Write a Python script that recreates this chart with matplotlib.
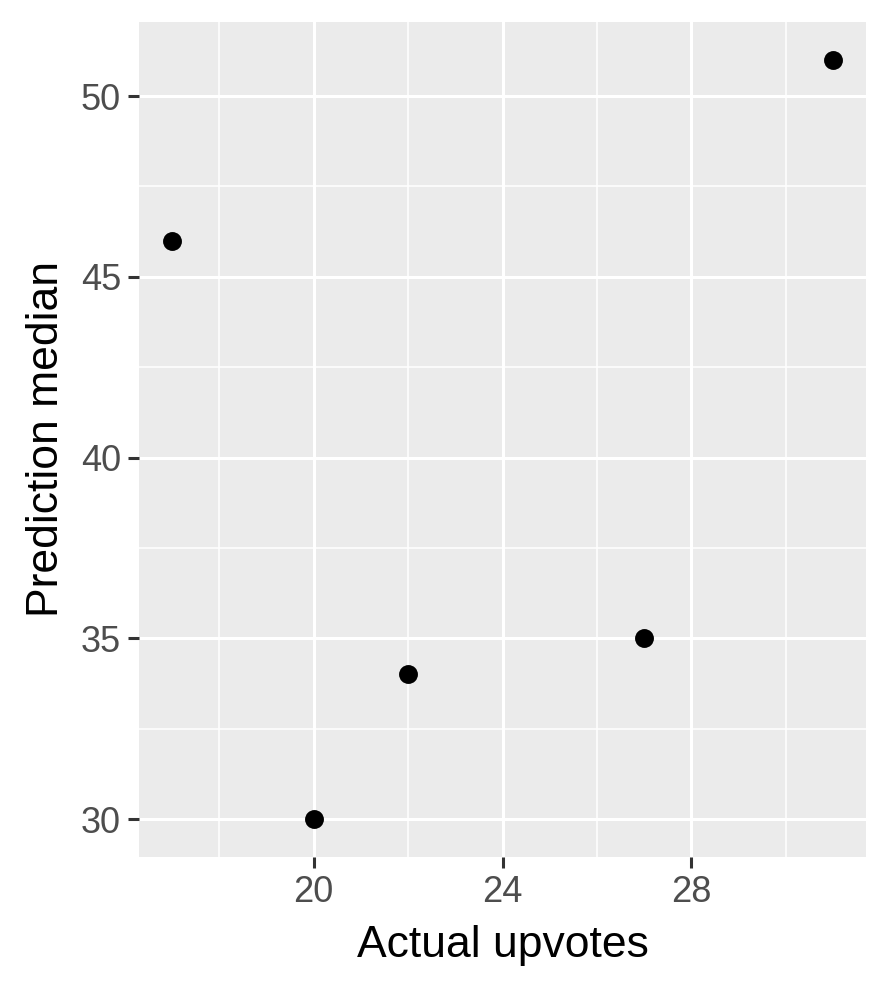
import matplotlib
matplotlib.use("Agg")
import matplotlib.pyplot as plt
from matplotlib.ticker import FixedLocator

plt.rcParams['font.family'] = ['Liberation Sans', 'DejaVu Sans']

# data
actual_upvotes = [17, 20, 22, 27, 31]
prediction_median = [46, 30, 34, 35, 51]

x_major = [20, 24, 28]
x_minor = [18, 22, 26, 30]
y_major = [30, 35, 40, 45, 50]
y_minor = [32.5, 37.5, 42.5, 47.5]

fig = plt.figure(figsize=(8.9, 9.93), dpi=100)
ax = fig.add_axes([0.1562, 0.1370, 0.8169, 0.8409])
ax.set_facecolor('#EBEBEB')
for s in ax.spines.values():
    s.set_visible(False)

ax.set_xlim(16.3, 31.7)
ax.set_ylim(28.95, 52.05)
ax.xaxis.set_major_locator(FixedLocator(x_major))
ax.xaxis.set_minor_locator(FixedLocator(x_minor))
ax.yaxis.set_major_locator(FixedLocator(y_major))
ax.yaxis.set_minor_locator(FixedLocator(y_minor))

ax.grid(which='major', color='white', linewidth=2.2)
ax.grid(which='minor', color='white', linewidth=1.1)
ax.set_axisbelow(True)

ax.tick_params(which='major', length=8, width=2.2, color='#333333',
               labelcolor='#4D4D4D', labelsize=26, pad=5)
ax.tick_params(which='minor', length=0)

ax.scatter(actual_upvotes, prediction_median, s=185, color='black',
           linewidths=0, zorder=3)

ax.set_xlabel('Actual upvotes', fontsize=32, labelpad=11)
ax.set_ylabel('Prediction median', fontsize=32, labelpad=10)

fig.savefig('out.png', dpi=100)
